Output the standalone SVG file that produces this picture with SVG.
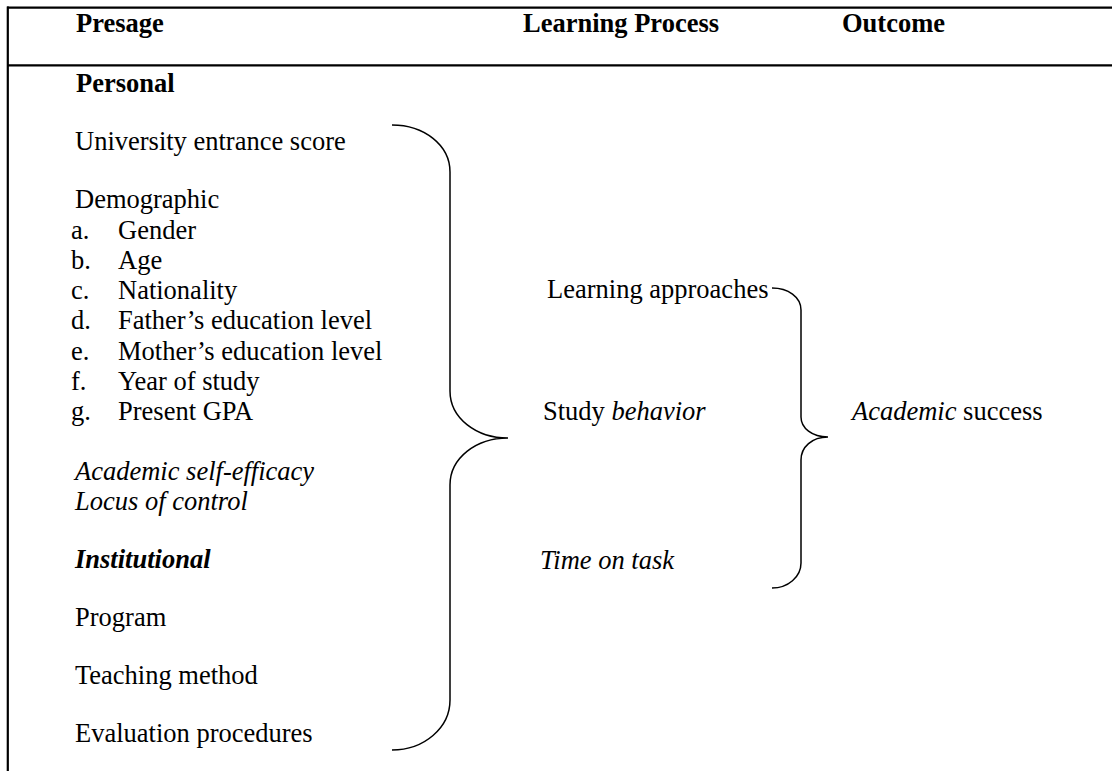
<svg xmlns="http://www.w3.org/2000/svg" width="1112" height="771" viewBox="0 0 1112 771">
  <style>
    text { font-family: "Liberation Serif", "Times New Roman", serif; font-size: 26.5px; fill: #000; }
    .b { font-weight: bold; }
    .i { font-style: italic; }
    .rule { stroke: #000; stroke-width: 2.2; fill: none; }
    .brace { stroke: #000; stroke-width: 1.5; fill: none; }
  </style>
  <rect width="1112" height="771" fill="#fff"/>

  <!-- table frame -->
  <g id="frame">
    <line class="rule" x1="7" y1="7.7" x2="1112" y2="7.7"/>
    <line class="rule" x1="7" y1="65.3" x2="1112" y2="65.3"/>
    <line class="rule" x1="7.8" y1="6.6" x2="7.8" y2="771"/>
  </g>

  <!-- column headings -->
  <g id="headers">
    <text class="b" x="76" y="32">Presage</text>
    <text class="b" x="523" y="32">Learning Process</text>
    <text class="b" x="842" y="32">Outcome</text>
  </g>

  <!-- presage factors -->
  <g id="presage">
    <g id="personal">
      <text class="b" x="76" y="92">Personal</text>
      <text x="75" y="150">University entrance score</text>
      <g id="demographic">
        <text x="75" y="208">Demographic</text>
        <text x="71" y="238.5">a.</text><text x="118" y="238.5">Gender</text>
        <text x="71" y="268.8">b.</text><text x="118" y="268.8">Age</text>
        <text x="71" y="299.1">c.</text><text x="118" y="299.1">Nationality</text>
        <text x="71" y="329.4">d.</text><text x="118" y="329.4">Father’s education level</text>
        <text x="71" y="359.7">e.</text><text x="118" y="359.7">Mother’s education level</text>
        <text x="71" y="390">f.</text><text x="118" y="390">Year of study</text>
        <text x="71" y="420.3">g.</text><text x="118" y="420.3">Present GPA</text>
      </g>
      <text class="i" x="75" y="480">Academic self-efficacy</text>
      <text class="i" x="75" y="510">Locus of control</text>
    </g>
    <g id="institutional">
      <text class="b i" x="75" y="568">Institutional</text>
      <text x="75" y="626">Program</text>
      <text x="75" y="684">Teaching method</text>
      <text x="75" y="742">Evaluation procedures</text>
    </g>
  </g>

  <!-- learning process -->
  <g id="process">
    <text id="approaches" x="547" y="298">Learning approaches</text>
    <text id="behavior" x="543" y="420">Study <tspan class="i">behavior</tspan></text>
    <text id="time" class="i" x="540" y="569">Time on task</text>
  </g>

  <!-- outcome -->
  <g id="outcome">
    <text x="852" y="420"><tspan class="i">Academic</tspan> success</text>
  </g>

  <!-- grouping braces -->
  <g id="connectors">
    <path class="brace" d="M392,125 C424,125 450,145 450,172 L450,391 C450,418 476,438 508,438 C476,438 450,458 450,485 L450,700 C450,728 424,750 392,750"/>
    <path class="brace" d="M772,288 C788,288 801,297 801,310 L801,417 C801,428 812,437 828,437 C812,437 801,447 801,460 L801,563 C801,577 788,588 772,588"/>
  </g>
</svg>
